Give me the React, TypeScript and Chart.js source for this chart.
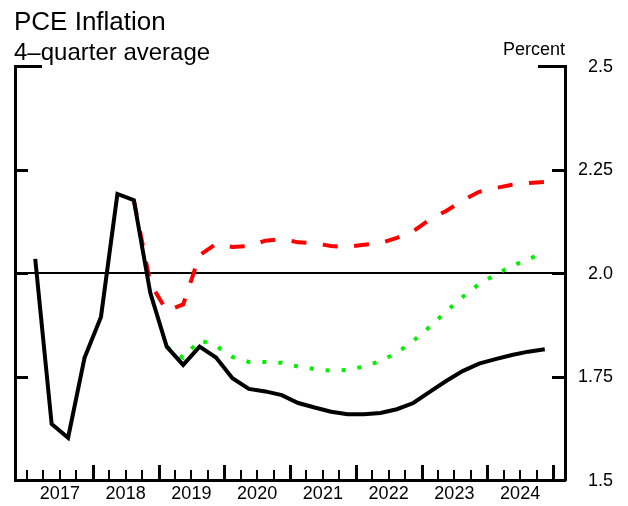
import React, { useEffect, useRef } from 'react';
import { Chart, registerables } from 'chart.js';

Chart.register(...registerables);

const titleText = 'PCE Inflation';
const subtitleText = '4\u2013quarter average';
const unitText = 'Percent';

const years = ['2017', '2018', '2019', '2020', '2021', '2022', '2023', '2024'];
const quarters = [
  '2017Q1', '2017Q2', '2017Q3', '2017Q4',
  '2018Q1', '2018Q2', '2018Q3', '2018Q4',
  '2019Q1', '2019Q2', '2019Q3', '2019Q4',
  '2020Q1', '2020Q2', '2020Q3', '2020Q4',
  '2021Q1', '2021Q2', '2021Q3', '2021Q4',
  '2022Q1', '2022Q2', '2022Q3', '2022Q4',
  '2023Q1', '2023Q2', '2023Q3', '2023Q4',
  '2024Q1', '2024Q2', '2024Q3', '2024Q4',
];

const baseline = [
  2.034, 1.635, 1.602, 1.795,
  1.894, 2.191, 2.176, 1.952,
  1.822, 1.778, 1.822, 1.796,
  1.746, 1.720, 1.714, 1.705,
  1.686, 1.675, 1.665, 1.659,
  1.659, 1.662, 1.671, 1.686,
  1.713, 1.739, 1.763, 1.781,
  1.792, 1.802, 1.810, 1.816,
];

const redScenario = [
  null, null, null, null,
  null, null, 2.176, 1.976,
  1.908, 1.924, 2.043, 2.070,
  2.063, 2.065, 2.078, 2.082,
  2.074, 2.072, 2.065, 2.063,
  2.068, 2.072, 2.085, 2.101,
  2.129, 2.150, 2.175, 2.196,
  2.205, 2.213, 2.217, 2.220,
];

const greenScenario = [
  null, null, null, null,
  null, null, null, null,
  1.822, 1.795, 1.838, 1.824,
  1.797, 1.785, 1.785, 1.783,
  1.774, 1.768, 1.764, 1.766,
  1.774, 1.787, 1.807, 1.836,
  1.870, 1.907, 1.942, 1.973,
  1.996, 2.017, 2.033, 2.051,
];

const yTicks = [1.5, 1.75, 2.0, 2.25, 2.5];
const yTickLabels = ['1.5', '1.75', '2.0', '2.25', '2.5'];
const referenceLevel = 2.0;

const FONT = '"Liberation Sans", Arial, Helvetica, sans-serif';

const toPoints = (arr: (number | null)[]) =>
  arr.map((v, i) => ({ x: i, y: v }));

const decorPlugin = {
  id: 'decor',
  afterDraw(chart: any) {
    const { ctx, chartArea: a, scales } = chart;
    const xs = scales.x;
    const ys = scales.y;
    ctx.save();
    ctx.strokeStyle = '#000';
    ctx.lineCap = 'butt';

    // bottom quarter ticks (inward)
    for (let k = 0; k <= quarters.length; k++) {
      const px = Math.round(xs.getPixelForValue(k - 0.5));
      const major = k > 0 && k % 4 === 0;
      const len = major ? 15 : 10;
      ctx.lineWidth = major ? 3 : 2;
      ctx.beginPath();
      ctx.moveTo(px + (major ? 0.5 : 0), a.bottom);
      ctx.lineTo(px + (major ? 0.5 : 0), a.bottom - len);
      ctx.stroke();
    }

    // left/right value ticks (inward)
    yTicks.forEach((v) => {
      if (v === yTicks[0]) return;
      const py = Math.round(ys.getPixelForValue(v)) + 0.5;
      const len = v === yTicks[yTicks.length - 1] ? 27 : 13;
      ctx.lineWidth = 3;
      ctx.beginPath();
      ctx.moveTo(a.left, py);
      ctx.lineTo(a.left + len, py);
      ctx.moveTo(a.right, py);
      ctx.lineTo(a.right - len, py);
      ctx.stroke();
    });

    // texts
    ctx.fillStyle = '#000';
    ctx.textBaseline = 'alphabetic';
    ctx.textAlign = 'left';
    ctx.font = `26px ${FONT}`;
    ctx.fillText(titleText, 14, 30);
    ctx.font = `24px ${FONT}`;
    ctx.fillText(subtitleText, 14, 60);
    ctx.textAlign = 'right';
    ctx.font = `18px ${FONT}`;
    ctx.fillText(unitText, a.right, 55);
    ctx.restore();
  },
};

export default function App() {
  const ref = useRef<HTMLCanvasElement | null>(null);

  useEffect(() => {
    document.body.style.margin = '0';
    const canvas = ref.current;
    if (!canvas) return;
    const qw = 526 / quarters.length;
    const xMin = -0.5 - 12 / qw;
    const xMax = quarters.length - 0.5 + 12 / qw;
    const yearCenters = years.map((_, i) => i * 4 + 1.5);

    const chart = new Chart(canvas, {
      type: 'line',
      data: {
        datasets: [
          {
            label: 'Baseline',
            data: toPoints(baseline),
            borderColor: '#000000',
            borderWidth: 4,
            pointRadius: 0,
            tension: 0,
            fill: false,
          },
          {
            label: 'Higher',
            data: toPoints(redScenario),
            borderColor: '#ff0000',
            borderWidth: 4,
            borderDash: [15, 16.5],
            borderCapStyle: 'butt',
            pointRadius: 0,
            tension: 0,
            fill: false,
          },
          {
            label: 'Lower',
            data: toPoints(greenScenario),
            borderColor: '#00f000',
            borderWidth: 4,
            borderDash: [4, 12],
            borderCapStyle: 'butt',
            pointRadius: 0,
            tension: 0,
            fill: false,
          },
        ],
      },
      options: {
        responsive: false,
        animation: false,
        devicePixelRatio: 1,
        layout: { padding: { top: 66, left: 15, right: 15, bottom: 0 } },
        plugins: {
          legend: { display: false },
          tooltip: { enabled: false },
          title: { display: false },
        },
        scales: {
          x: {
            type: 'linear',
            position: 'bottom',
            min: xMin,
            max: xMax,
            afterBuildTicks: (s: any) => {
              s.ticks = yearCenters.map((v) => ({ value: v }));
            },
            afterFit: (s: any) => {
              s.height = 26;
            },
            ticks: {
              autoSkip: false,
              maxRotation: 0,
              padding: 3,
              color: '#000',
              font: { family: FONT, size: 18 },
              callback: (_v: any, i: number) => years[i],
            },
            grid: { display: false, drawTicks: false },
            border: { display: true, width: 3, color: '#000' },
          },
          y: {
            type: 'linear',
            position: 'right',
            min: yTicks[0],
            max: yTicks[yTicks.length - 1],
            afterBuildTicks: (s: any) => {
              s.ticks = yTicks.map((v) => ({ value: v }));
            },
            afterFit: (s: any) => {
              s.width = 48;
            },
            ticks: {
              padding: 13,
              crossAlign: 'far',
              labelOffset: 1,
              color: '#000',
              font: { family: FONT, size: 18 },
              callback: (_v: any, i: number) => yTickLabels[i],
            },
            grid: {
              display: true,
              drawTicks: false,
              lineWidth: 2,
              color: (c: any) =>
                c.tick && c.tick.value === referenceLevel ? '#000' : 'rgba(0,0,0,0)',
            },
            border: { display: true, width: 3, color: '#000' },
          },
          yLeft: {
            type: 'linear',
            position: 'left',
            min: yTicks[0],
            max: yTicks[yTicks.length - 1],
            afterFit: (s: any) => {
              s.width = 0;
            },
            ticks: { display: false },
            grid: { display: false, drawTicks: false },
            border: { display: true, width: 3, color: '#000' },
          },
        },
      },
      plugins: [decorPlugin],
    } as any);

    return () => chart.destroy();
  }, []);

  return (
    <div style={{ width: 628, height: 506 }}>
      <canvas ref={ref} width={628} height={506} style={{ display: 'block' }} />
    </div>
  );
}
